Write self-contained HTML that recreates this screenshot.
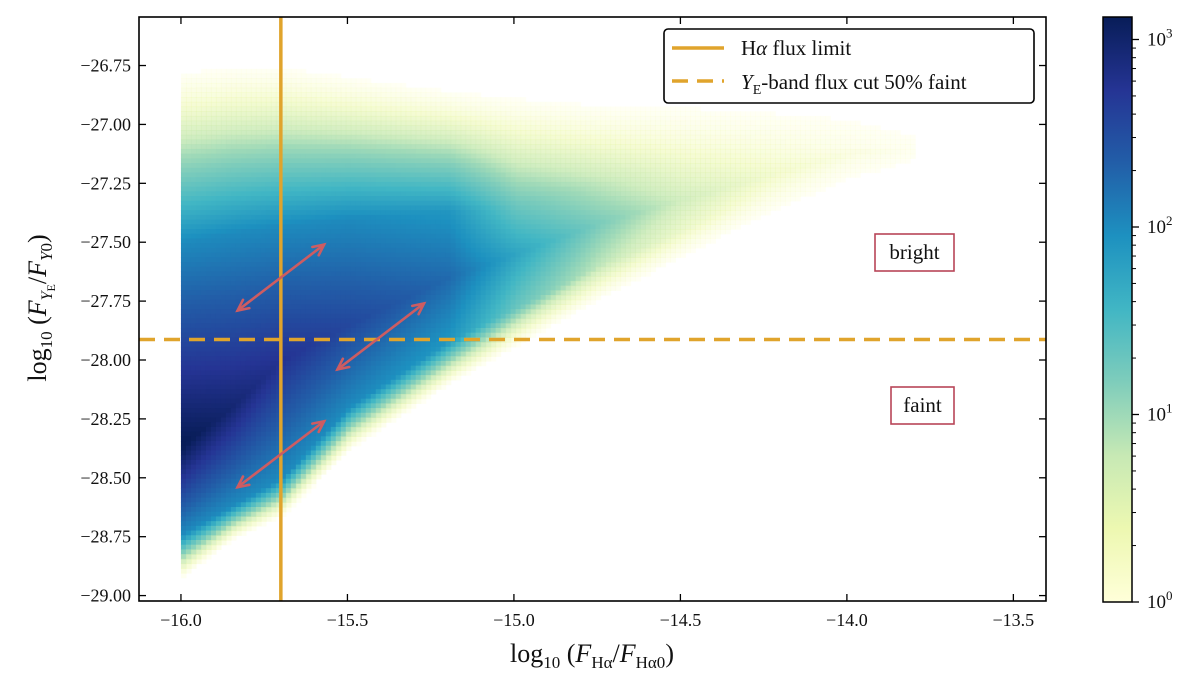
<!DOCTYPE html>
<html><head><meta charset="utf-8">
<style>
html,body{margin:0;padding:0;background:#fff;}
svg{display:block;font-family:"Liberation Serif",serif;}
</style></head>
<body>
<svg id="chart" width="1200" height="674" viewBox="0 0 1200 674" xmlns="http://www.w3.org/2000/svg">
<defs>
<linearGradient id="cbgrad" x1="0" y1="1" x2="0" y2="0">
<stop offset="0" stop-color="#ffffd9"/><stop offset="0.125" stop-color="#edf8b1"/>
<stop offset="0.25" stop-color="#c7e9b4"/><stop offset="0.375" stop-color="#7fcdbb"/>
<stop offset="0.5" stop-color="#41b6c4"/><stop offset="0.625" stop-color="#1d91c0"/>
<stop offset="0.75" stop-color="#225ea8"/><stop offset="0.875" stop-color="#253494"/>
<stop offset="1" stop-color="#081d58"/>
</linearGradient>
<clipPath id="plotclip"><rect x="139" y="17" width="907" height="584"/></clipPath>
</defs>
<g id="cells" clip-path="url(#plotclip)"></g>
<g id="overlay"></g>
<g id="axes"></g>
<g id="cbar"></g>
</svg>
<script>
// ---- data ----
const colX = [-16.0, -15.85, -15.7, -15.5, -15.2, -15.0, -14.75, -14.5, -14.25, -14.0, -13.8];
const sparseTop = [-26.78, -26.76, -26.76, -26.8, -26.86, -26.89, -26.92, -26.93, -26.95, -26.98, -27.05];
const coreTop = [-27.5, -27.46, -27.43, -27.40, -27.37, -27.35, -27.25, -27.18, -27.12, -27.1, -27.1];
const coreCenter = [-28.36, -28.2, -28.0, -27.85, -27.65, -27.55, -27.42, -27.32, -27.22, -27.12, -27.1];
const coreBottom = [-28.74, -28.62, -28.5, -28.2, -27.92, -27.78, -27.6, -27.45, -27.28, -27.16, -27.12];
const sparseBottom = [-28.92, -28.76, -28.66, -28.38, -28.1, -27.94, -27.74, -27.56, -27.38, -27.23, -27.15];
const peakLog = [3.15, 2.95, 2.75, 2.55, 2.25, 1.75, 1.2, 0.75, 0.45, 0.25, 0.08];
const edgeLog = [2.0, 2.0, 2.0, 2.0, 1.9, 1.3, 0.85, 0.5, 0.3, 0.15, 0.05];
const xTicks = [-16.0, -15.5, -15.0, -14.5, -14.0, -13.5];
const xTickLabels = ["\u221216.0", "\u221215.5", "\u221215.0", "\u221214.5", "\u221214.0", "\u221213.5"];
const yTicks = [-26.75, -27.0, -27.25, -27.5, -27.75, -28.0, -28.25, -28.5, -28.75, -29.0];
const yTickLabels = ["\u221226.75", "\u221227.00", "\u221227.25", "\u221227.50", "\u221227.75", "\u221228.00", "\u221228.25", "\u221228.50", "\u221228.75", "\u221229.00"];
const fluxLimitX = [-15.7];
const ycutY = [-27.913];
const cbTicks = [0, 1, 2, 3];
const arrowsData = [[-15.83, -27.79, -15.57, -27.51], [-15.53, -28.04, -15.27, -27.76], [-15.83, -28.54, -15.57, -28.26]];

// ---- scales ----
const X0 = 139, X1 = 1046, Y0 = 17, Y1 = 601;
const xmin = -16.126, xmax = -13.402, ymax = -26.544, ymin = -29.023;
const sx = v => X0 + (v - xmin) / (xmax - xmin) * (X1 - X0);
const sy = v => Y0 + (ymax - v) / (ymax - ymin) * (Y1 - Y0);
const vmax = 3.12;
const cbY = v => 602 - v / vmax * 585;

const NS = "http://www.w3.org/2000/svg";
function mk(tag, attrs, parent) { const e = document.createElementNS(NS, tag); for (const k in attrs) e.setAttribute(k, attrs[k]); parent.appendChild(e); return e; }

const stops = ["#ffffd9","#edf8b1","#c7e9b4","#7fcdbb","#41b6c4","#1d91c0","#225ea8","#253494","#081d58"].map(h => [parseInt(h.substr(1,2),16),parseInt(h.substr(3,2),16),parseInt(h.substr(5,2),16)]);
function cmap(t) { t = Math.max(0, Math.min(1, t)) * 8; const i = Math.min(7, Math.floor(t)), f = t - i; const a = stops[i], b = stops[i+1];
  return "rgb(" + [0,1,2].map(k => Math.round(a[k] + (b[k]-a[k])*f)).join(",") + ")"; }
function interpCol(arr, x) {
  if (x <= colX[0]) return arr[0];
  for (let i = 0; i < colX.length - 1; i++) if (x <= colX[i+1]) { const f = (x - colX[i])/(colX[i+1]-colX[i]); return arr[i] + (arr[i+1]-arr[i])*f; }
  return null;
}
function lin(y, ya, va, yb, vb) { return va + (vb - va) * (y - ya) / (yb - ya); }

// ---- heatmap cells ----
const cells = document.getElementById('cells');
const dx = 0.015, dy = 0.02;
for (let x = -16.0; x < colX[colX.length-1]; x += dx) {
  const st = interpCol(sparseTop, x), ct = interpCol(coreTop, x), cc = interpCol(coreCenter, x),
        cb = interpCol(coreBottom, x), sb = interpCol(sparseBottom, x), pk = interpCol(peakLog, x), ed = interpCol(edgeLog, x);
  for (let y = ymax; y > ymin; y -= dy) {
    const yc = y - dy/2;
    let v = -1;
    if (yc <= st && yc > ct) v = lin(yc, st, 0, ct, ed);
    else if (yc <= ct && yc > cc) v = lin(yc, ct, ed, cc, pk);
    else if (yc <= cc && yc > cb) v = lin(yc, cc, pk, cb, ed);
    else if (yc <= cb && yc > sb) v = lin(yc, cb, ed, sb, 0);
    if (v < 0) continue;
    const op = v < 1 ? 0.25 + 0.75 * v : 1;
    const r = mk('rect', {x: sx(x).toFixed(2), y: sy(y).toFixed(2), width: (sx(x+dx)-sx(x)+0.6).toFixed(2), height: (sy(y-dy)-sy(y)+0.6).toFixed(2), fill: cmap(v / vmax), 'fill-opacity': op.toFixed(2)}, cells);
    
    
  }
}

// ---- overlay ----
const ov = document.getElementById('overlay');
let l = mk('line', {x1: sx(fluxLimitX[0]), x2: sx(fluxLimitX[0]), y1: Y0, y2: Y1, stroke: '#e0a42c', 'stroke-width': 3.5}, ov);


l = mk('line', {x1: X0, x2: X1, y1: sy(ycutY[0]), y2: sy(ycutY[0]), stroke: '#e0a42c', 'stroke-width': 3.5, 'stroke-dasharray': '16 9'}, ov);


arrowsData.forEach(a => {
  const x1 = sx(a[0]), y1 = sy(a[1]), x2 = sx(a[2]), y2 = sy(a[3]);
  const g = mk('g', {stroke: '#cd5c62', 'stroke-width': 2.6, fill: 'none', 'stroke-linecap': 'round'}, ov);
  
  
  mk('line', {x1, y1, x2, y2}, g);
  const ang = Math.atan2(y2 - y1, x2 - x1), L = 12, w = 0.45;
  [[x2, y2, ang], [x1, y1, ang + Math.PI]].forEach(p => {
    mk('polyline', {points: [p[0] - L*Math.cos(p[2]-w), p[1] - L*Math.sin(p[2]-w), p[0], p[1], p[0] - L*Math.cos(p[2]+w), p[1] - L*Math.sin(p[2]+w)].join(' ')}, g);
  });
});
// labels
[['bright', 875, 234, 79, 37, 'bright-label'], ['faint', 891, 387, 63, 37, 'faint-label']].forEach(b => {
  const g = mk('g', {}, ov);
  
  
  mk('rect', {x: b[1], y: b[2], width: b[3], height: b[4], fill: '#fff', stroke: '#b84558', 'stroke-width': 1.6}, g);
  const t = mk('text', {x: b[1] + b[3]/2, y: b[2] + 25, 'font-size': 21, 'text-anchor': 'middle', fill: '#111'}, g);
  t.textContent = b[0];
});
// legend
const lg = mk('g', {}, ov);


mk('rect', {x: 664, y: 29, width: 370, height: 74, rx: 4, fill: '#fff', stroke: '#000', 'stroke-width': 1.6}, lg);
mk('line', {x1: 672, x2: 724, y1: 48, y2: 48, stroke: '#e0a42c', 'stroke-width': 3.5}, lg);
mk('line', {x1: 672, x2: 724, y1: 81, y2: 81, stroke: '#e0a42c', 'stroke-width': 3.5, 'stroke-dasharray': '16 9'}, lg);
let t = mk('text', {x: 741, y: 55, 'font-size': 21, fill: '#111'}, lg);


t.innerHTML = 'H<tspan font-style="italic">α</tspan> flux limit';
t = mk('text', {x: 741, y: 89, 'font-size': 21, fill: '#111'}, lg);


t.innerHTML = '<tspan font-style="italic">Y</tspan><tspan font-size="14" dy="5">E</tspan><tspan dy="-5">-band flux cut 50% faint</tspan>';

// ---- axes ----
const ax = document.getElementById('axes');
mk('rect', {x: X0, y: Y0, width: X1 - X0, height: Y1 - Y0, fill: 'none', stroke: '#000', 'stroke-width': 1.6}, ax);
xTicks.forEach((v, i) => {
  const x = sx(v);
  mk('line', {x1: x, x2: x, y1: Y1, y2: Y1 - 7, stroke: '#000', 'stroke-width': 1.3}, ax);
  mk('line', {x1: x, x2: x, y1: Y0, y2: Y0 + 7, stroke: '#000', 'stroke-width': 1.3}, ax);
  const tt = mk('text', {x, y: Y1 + 25, 'font-size': 18, 'text-anchor': 'middle', fill: '#111'}, ax);
  
  
  tt.textContent = xTickLabels[i];
});
yTicks.forEach((v, i) => {
  const y = sy(v);
  mk('line', {x1: X0, x2: X0 + 7, y1: y, y2: y, stroke: '#000', 'stroke-width': 1.3}, ax);
  mk('line', {x1: X1, x2: X1 - 7, y1: y, y2: y, stroke: '#000', 'stroke-width': 1.3}, ax);
  const tt = mk('text', {x: X0 - 8, y: y + 6, 'font-size': 18, 'text-anchor': 'end', fill: '#111'}, ax);
  
  
  tt.textContent = yTickLabels[i];
});
t = mk('text', {x: 592, y: 662, 'font-size': 26, 'text-anchor': 'middle', fill: '#111'}, ax);


t.innerHTML = 'log<tspan font-size="17" dy="6">10</tspan><tspan dy="-6"> (</tspan><tspan font-style="italic">F</tspan><tspan font-size="17" dy="6">Hα</tspan><tspan dy="-6">/</tspan><tspan font-style="italic">F</tspan><tspan font-size="17" dy="6">Hα0</tspan><tspan dy="-6">)</tspan>';
t = mk('text', {x: 0, y: 0, 'font-size': 26, 'text-anchor': 'middle', fill: '#111', transform: 'translate(46,308) rotate(-90)'}, ax);


t.innerHTML = 'log<tspan font-size="17" dy="6">10</tspan><tspan dy="-6"> (</tspan><tspan font-style="italic">F</tspan><tspan font-size="16" dy="6" font-style="italic">Y</tspan><tspan font-size="12" dy="3">E</tspan><tspan dy="-9">/</tspan><tspan font-style="italic">F</tspan><tspan font-size="17" dy="6"><tspan font-style="italic">Y</tspan>0</tspan><tspan dy="-6">)</tspan>';

// ---- colorbar ----
const cbg = document.getElementById('cbar');
mk('rect', {x: 1103, y: 17, width: 29, height: 585, fill: 'url(#cbgrad)', stroke: '#000', 'stroke-width': 1.5}, cbg);
cbTicks.forEach(d => {
  const y = cbY(d);
  mk('line', {x1: 1132, x2: 1139, y1: y, y2: y, stroke: '#000', 'stroke-width': 1.3}, cbg);
  const tt = mk('text', {x: 1147, y: y + 6, 'font-size': 19, fill: '#111'}, cbg);
  
  
  tt.innerHTML = '10<tspan font-size="13" dy="-8">' + d + '</tspan>';
  if (d < 3) for (let m = 2; m <= 9; m++) {
    const ym = cbY(d + Math.log10(m));
    mk('line', {x1: 1132, x2: 1136, y1: ym, y2: ym, stroke: '#000', 'stroke-width': 1}, cbg);
  }
});
</script>
</body></html>
